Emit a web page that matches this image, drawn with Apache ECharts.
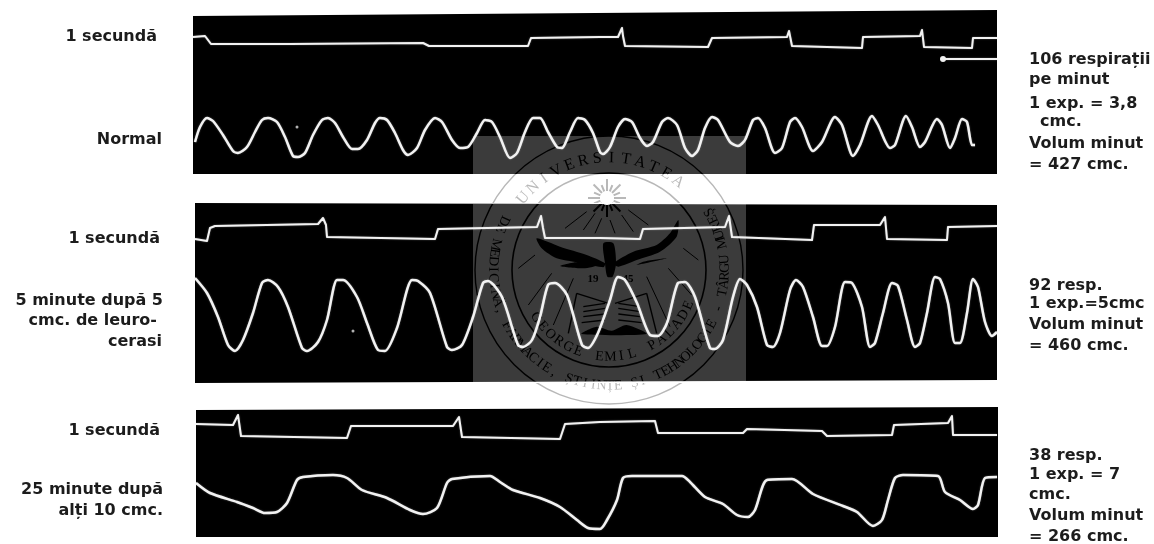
<!DOCTYPE html>
<html><head><meta charset="utf-8">
<style>html,body{margin:0;background:#fff}#c{width:1154px;height:544px}</style>
<script src="https://cdn.jsdelivr.net/npm/echarts@6/dist/echarts.min.js"></script>
</head><body><div id="c"></div>
<script>
// Readings: [time, deflection] in trace units
const timerNormal=[[0,137],[12,138],[18,130],[97,130],[230,131],[236,128],[335,128],[338,136],[407,137],[425,137],[429,146],[430,138],[432,128],[515,127],[519,136],[594,137],[596,143],[599,128],[669,126],[670,137],[727,138],[729,144],[731,127],[779,126],[780,136],[804,136]];
const markerNormal=[[750,115],[804,115]];
const breathNormal=[[2,32],[7,47],[14,56],[20,53],[30,39],[40,23],[45,21],[54,27],[62,42],[69,54],[75,56],[84,52],[92,37],[100,18],[105,17],[112,21],[120,39],[129,54],[135,56],[142,51],[150,37],[159,25],[165,25],[174,34],[182,51],[187,56],[194,54],[202,41],[210,24],[215,19],[224,26],[232,44],[242,56],[249,52],[259,34],[267,26],[275,27],[284,41],[292,54],[299,52],[307,37],[317,16],[324,21],[332,42],[340,56],[347,56],[355,42],[364,27],[369,26],[377,42],[385,56],[392,54],[400,41],[407,22],[410,20],[417,27],[425,47],[432,55],[439,52],[447,36],[454,28],[460,32],[469,52],[475,56],[484,49],[492,26],[499,18],[505,24],[512,46],[519,57],[525,54],[537,32],[545,28],[552,34],[560,54],[565,56],[572,46],[582,21],[589,26],[597,52],[602,56],[609,47],[620,23],[629,32],[642,57],[649,49],[660,18],[667,29],[679,58],[685,49],[697,26],[702,29],[713,58],[719,47],[727,27],[732,32],[744,55],[749,49],[757,26],[762,36],[769,55],[774,52],[779,29],[782,29]];
const timerFive=[[0,144],[12,142],[15,155],[20,157],[123,159],[128,165],[131,158],[132,146],[240,144],[243,154],[342,156],[346,167],[348,155],[350,145],[405,145],[445,144],[448,154],[530,156],[534,167],[537,146],[617,143],[619,158],[685,158],[690,166],[692,144],[752,143],[753,156],[802,157]];
const breathFive=[[0,105],[12,90],[23,66],[33,38],[40,32],[48,43],[58,70],[67,100],[73,103],[83,96],[93,76],[107,35],[112,32],[123,41],[132,63],[142,103],[148,103],[162,86],[172,60],[183,33],[190,32],[202,55],[217,103],[223,102],[235,90],[252,36],[257,33],[267,38],[278,66],[288,100],[293,102],[307,86],[323,38],[328,36],[337,43],[345,66],[353,98],[360,100],[372,88],[387,38],[393,35],[403,50],[415,83],[423,106],[430,103],[442,80],[455,48],[463,47],[472,60],[483,100],[490,101],[500,86],[515,35],[520,34],[528,43],[538,86],[545,104],[552,98],[562,76],[572,38],[578,36],[585,50],[595,93],[601,103],[608,96],[618,66],[627,37],[632,37],[640,56],[650,101],[657,100],[667,76],[675,36],[680,40],[688,70],[697,100],[703,97],[712,63],[720,36],[725,40],[732,70],[740,106],[745,104],[753,80],[760,40],[765,40],[772,70],[778,104],[783,96],[790,61],[797,47],[802,51]];
const timerTwentyFive=[[0,113],[37,112],[42,122],[45,101],[151,99],[155,111],[257,111],[263,120],[266,100],[364,98],[369,113],[404,115],[459,116],[462,104],[547,104],[551,108],[626,106],[631,101],[696,102],[698,112],[752,114],[756,121],[757,102],[801,102]];
const breathTwentyFive=[[0,54],[14,44],[41,35],[57,29],[69,24],[81,25],[91,34],[101,57],[107,60],[137,62],[151,59],[166,47],[191,39],[214,27],[227,23],[241,29],[251,54],[256,58],[294,61],[304,55],[317,47],[344,39],[364,30],[381,17],[392,9],[404,8],[411,17],[421,37],[427,59],[436,61],[486,61],[494,55],[509,40],[527,33],[541,22],[552,20],[559,27],[571,57],[596,58],[617,43],[647,31],[661,25],[677,11],[686,17],[692,37],[699,59],[707,62],[742,61],[749,45],[764,37],[777,28],[782,32],[789,59],[801,60]];
const specks=[[[104,47]],[[158,52]],[]];

const leftLabels=["1 secundă","Normal","1 secundă","5 minute după 5","cmc. de leuro-","cerasi","1 secundă","25 minute după","alți 10 cmc."];
const rightLabels=["106 respirații","pe minut","1 exp. = 3,8","cmc.","Volum minut","= 427 cmc.","92 resp.","1 exp.=5cmc","Volum minut","= 460 cmc.","38 resp.","1 exp. = 7","cmc.","Volum minut","= 266 cmc."];

const panels=[{l:193,t:10,w:804,h:164},{l:195,t:203,w:802,h:180},{l:196,t:407,w:802,h:130}];
const leftLayout=[[157,37],[162,140],[160,239],[163,301],[157,321],[162,342],[160,431],[163,490],[163,511]];
const rightLayout=[[1029,60],[1029,80],[1029,104],[1040,122],[1029,144],[1029,165],[1029,286],[1029,304],[1029,325],[1029,346],[1029,456],[1029,475],[1029,495],[1029,516],[1029,537]];

const chart=echarts.init(document.getElementById('c'),null,{renderer:'canvas'});
const LINE='#f2f2f2';
const FONT='bold 16px "DejaVu Sans"';
const trace=(name,g,data,smooth,width)=>({name,type:'line',xAxisIndex:g,yAxisIndex:g,data,smooth,showSymbol:false,symbol:'none',z:10,animation:false,silent:true,
  lineStyle:{color:LINE,width:width,join:'round',shadowColor:'rgba(255,255,255,.45)',shadowBlur:1.5}});
const series=[
 trace('timer normal',0,timerNormal,false,2),trace('breath normal',0,breathNormal,0.25,2.5),
 trace('timer 5',1,timerFive,false,2),trace('breath 5',1,breathFive,0.25,2.5),
 trace('timer 25',2,timerTwentyFive,false,2),trace('breath 25',2,breathTwentyFive,0.25,2.5),
 Object.assign(trace('marker',0,markerNormal,false,2),{showSymbol:true,symbol:'circle',symbolSize:(v,p)=>p.dataIndex===0?6:0,itemStyle:{color:LINE}})
];
specks.forEach((d,i)=>{if(d.length)series.push({type:'scatter',xAxisIndex:i,yAxisIndex:i,data:d,symbolSize:3,itemStyle:{color:'#ddd'},z:10,silent:true});});

// seal and page decoration
const g=[];
const CX=609,CY=270;
const Z=(x,y)=>[470+x/3,130+y/3];
const poly=(pts,fill,z)=>g.push({type:'polygon',z:z||2,silent:true,shape:{points:pts.map(p=>Z(p[0],p[1])),smooth:0.25},style:{fill:fill||'#000'}});
const seg=(a,b,c,d,w)=>{const p=Z(a,b),q=Z(c,d);g.push({type:'line',z:2,silent:true,shape:{x1:p[0],y1:p[1],x2:q[0],y2:q[1]},style:{stroke:'#000',lineWidth:w||1}});};
g.push({type:'rect',z:1,silent:true,shape:{x:473,y:136,width:273,height:38},style:{fill:'#3b3b3b'}});
g.push({type:'rect',z:1,silent:true,shape:{x:473,y:204,width:273,height:178},style:{fill:'#3b3b3b'}});
[[134,1.4],[97,1.6]].forEach(([r,w])=>g.push({type:'circle',z:2,silent:true,shape:{cx:CX,cy:CY,r},style:{fill:'none',stroke:'#000',lineWidth:w}}));
function arcText(str,r,a0,a1,bottom,size){
  const n=str.length;
  for(let i=0;i<n;i++){
    const a=(a0+(a1-a0)*i/(n-1))*Math.PI/180;
    g.push({type:'text',z:2,silent:true,x:CX+r*Math.cos(a),y:CY+r*Math.sin(a),rotation:bottom?-(a-Math.PI/2):-(a+Math.PI/2),
      style:{text:str[i],fill:'#000',font:size+'px "Liberation Serif"',textAlign:'center',textVerticalAlign:'middle'}});
  }
}
arcText('UNIVERSITATEA',112,-140,-52,false,16);
arcText('DE MEDICINĂ, FARMACIE, ȘTIINȚE ȘI TEHNOLOGIE - TÂRGU MUREȘ',116,205,-30,true,14);
arcText('GEORGE EMIL PALADE',87,147,24,true,14);
[[285,295,350,245],[145,415,195,375],[175,525,245,430],[250,585,310,445],[640,355,685,390],[595,415,665,495],[530,440,600,590],[340,300,375,250],[375,310,395,265],[420,270,435,310],[455,255,490,305],[475,240,535,285]].forEach(s=>seg(...s));
poly([[200,325],[270,350],[350,375],[405,400],[400,412],[340,400],[260,385],[215,355]]);
poly([[270,408],[340,415],[385,405],[330,395]]);
poly([[625,270],[620,320],[570,365],[500,390],[445,410],[430,400],[490,365],[560,345],[600,310]]);
poly([[500,405],[590,385],[520,395]]);
poly([[400,340],[430,340],[438,400],[428,440],[412,440],[405,400]]);
poly([[335,612],[380,590],[425,602],[470,585],[530,612]]);
[[340,530,405,520],[340,545,405,535],[340,560,405,552],[335,578,405,570],[445,520,510,530],[445,535,510,545],[445,552,510,560],[445,570,515,578],[320,490,295,610],[530,490,560,610],[320,490,415,520],[530,490,435,520]].forEach(s=>seg(...s,1.4));
g.push({type:'text',z:2,silent:true,x:593,y:279,style:{text:'19',font:'bold 11px "Liberation Serif"',fill:'#000',textAlign:'center',textVerticalAlign:'middle'}});
g.push({type:'text',z:2,silent:true,x:628,y:279,style:{text:'45',font:'bold 11px "Liberation Serif"',fill:'#000',textAlign:'center',textVerticalAlign:'middle'}});
// rays of the sun
for(let i=0;i<16;i++){const a=i*Math.PI/8,L=i%2?14:19;g.push({type:'line',z:2,silent:true,shape:{x1:607+7*Math.cos(a),y1:198+7*Math.sin(a),x2:607+L*Math.cos(a),y2:198+L*Math.sin(a)},style:{stroke:'#000',lineWidth:2}});}
// paper veil over the seal outside the black panels
g.push({type:'rect',z:3,silent:true,shape:{x:465,y:174,width:290,height:29},style:{fill:'rgba(255,255,255,.72)'}});
g.push({type:'rect',z:3,silent:true,shape:{x:465,y:383,width:290,height:24},style:{fill:'rgba(255,255,255,.72)'}});
g.push({type:'circle',z:4,silent:true,shape:{cx:607,cy:198,r:7},style:{fill:'#fff'}});
// skewed scan edges
[[[193,10],[997,10],[193,16]],[[197,203],[997,203],[997,205]],[[195,383],[997,383],[997,380]],[[196,407],[998,407],[196,410]]].forEach(p=>g.push({type:'polygon',z:11,silent:true,shape:{points:p},style:{fill:'#fff'}}));
leftLabels.forEach((t,i)=>g.push({type:'text',z:12,silent:true,x:leftLayout[i][0],y:leftLayout[i][1],style:{text:t,font:FONT,fill:'#1c1c1c',textAlign:'right',textVerticalAlign:'middle'}}));
rightLabels.forEach((t,i)=>g.push({type:'text',z:12,silent:true,x:rightLayout[i][0],y:rightLayout[i][1],style:{text:t,font:FONT,fill:'#1c1c1c',textAlign:'left',textVerticalAlign:'middle'}}));

chart.setOption({animation:false,backgroundColor:'#fff',
 grid:panels.map(p=>({left:p.l,top:p.t,width:p.w,height:p.h,show:true,backgroundColor:'#000',borderWidth:0,containLabel:false})),
 xAxis:panels.map((p,i)=>({type:'value',gridIndex:i,min:0,max:p.w,show:false})),
 yAxis:panels.map((p,i)=>({type:'value',gridIndex:i,min:0,max:p.h,show:false})),
 series,graphic:{elements:g}});
</script></body></html>
